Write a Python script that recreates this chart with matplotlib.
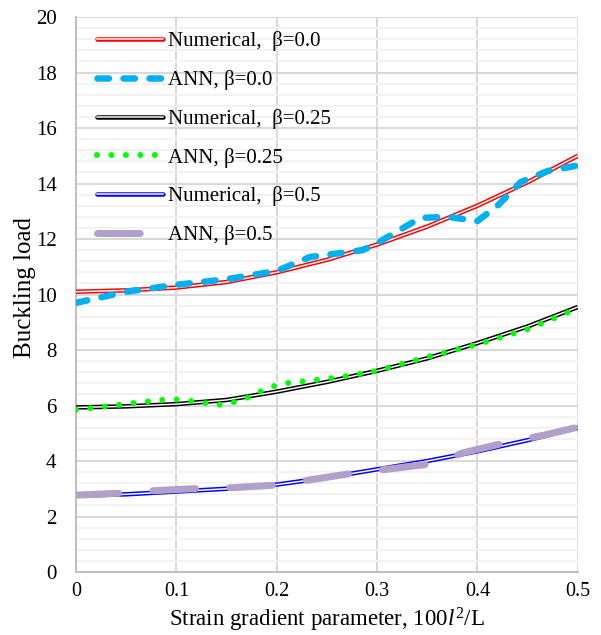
import numpy as np
import matplotlib
matplotlib.use('Agg')
import matplotlib.pyplot as plt
from matplotlib.lines import Line2D

plt.rcParams['font.family'] = 'Liberation Serif'
plt.rcParams['mathtext.fontset'] = 'custom'
plt.rcParams['mathtext.rm'] = 'Liberation Serif'
plt.rcParams['mathtext.it'] = 'Liberation Serif:italic'

# Numerical solutions
x_num = [0.0, 0.05, 0.1, 0.15, 0.2, 0.25, 0.3, 0.35, 0.4, 0.45, 0.5]
num_b00 = [10.1, 10.15, 10.25, 10.45, 10.8, 11.25, 11.8, 12.45, 13.2, 14.05, 15.0]
num_b025 = [5.93, 5.97, 6.05, 6.2, 6.5, 6.85, 7.25, 7.7, 8.25, 8.85, 9.55]
num_b05 = [2.75, 2.8, 2.9, 3.0, 3.15, 3.4, 3.7, 4.0, 4.35, 4.75, 5.2]

# ANN predictions
x_ann_b00 = [0.0, 0.05, 0.1, 0.15, 0.2, 0.233, 0.286, 0.3, 0.343, 0.37, 0.4, 0.42, 0.443, 0.47, 0.5]
ann_b00 = [9.7, 10.1, 10.35, 10.55, 10.85, 11.35, 11.6, 11.85, 12.76, 12.8, 12.65, 13.2, 14.05, 14.45, 14.65]
x_ann_b025 = [0.0, 0.028, 0.056, 0.085, 0.099, 0.113, 0.141, 0.155, 0.169, 0.182, 0.195, 0.208,
              0.237, 0.265, 0.3, 0.35, 0.4, 0.45, 0.5]
ann_b025 = [5.85, 5.96, 6.08, 6.2, 6.22, 6.17, 6.02, 6.1, 6.25, 6.48, 6.68, 6.8,
            6.91, 7.03, 7.25, 7.75, 8.2, 8.75, 9.5]
x_ann_b05 = [0.0, 0.05, 0.077, 0.127, 0.157, 0.203, 0.233, 0.283, 0.309, 0.359, 0.386, 0.435, 0.465, 0.5]
ann_b05 = [2.77, 2.85, 2.93, 3.02, 3.04, 3.14, 3.32, 3.6, 3.7, 3.92, 4.3, 4.72, 4.92, 5.22]

fig = plt.figure(figsize=(6.01, 6.35), dpi=100)
ax = fig.add_axes([0.1265, 0.0992, 0.835, 0.874])

px = 72 / 100  # points per pixel

# line styles (Excel look)
sty_ann0 = dict(color='#00B0F0', lw=6.5 * px, ls=(0, (1.77, 2.23)), dash_capstyle='round')
sty_ann25 = dict(color='#00FF00', lw=6 * px, ls=(0, (0.01, 2.4)), dash_capstyle='round')
sty_ann5 = dict(color='#B1A0C7', lw=7 * px, ls=(0, (6.1, 4.9)), dash_capstyle='round')


def double_line(xs, ys, color):
    # "double" compound line: coloured outline with a white core
    ax.plot(xs, ys, color=color, lw=4.5 * px, solid_capstyle='butt', zorder=3)
    ax.plot(xs, ys, color='white', lw=1.5 * px, solid_capstyle='butt', zorder=3.1)


double_line(x_num, num_b00, '#FF0000')
ax.plot(x_ann_b00, ann_b00, zorder=4, **sty_ann0)
double_line(x_num, num_b025, '#000000')
ax.plot(x_ann_b025, ann_b025, zorder=4, **sty_ann25)
double_line(x_num, num_b05, '#0000FF')
ax.plot(x_ann_b05, ann_b05, zorder=4, **sty_ann5)

ax.set_xlim(0, 0.5)
ax.set_ylim(0, 20)
ax.set_xticks(np.arange(0, 0.51, 0.1))
ax.set_xticklabels(['0', '0.1', '0.2', '0.3', '0.4', '0.5'])
ax.set_yticks(np.arange(0, 21, 2))
ax.set_yticks(np.arange(0, 20.01, 0.4), minor=True)
ax.tick_params(axis='both', which='both', length=0, labelsize=15, colors='black')
ax.tick_params(axis='x', pad=7, labelsize=14.5)
ax.tick_params(axis='y', pad=14)

ax.grid(True, which='major', color='#D9D9D9', lw=2 * px, zorder=1)
ax.yaxis.grid(True, which='minor', color='#F2F2F2', lw=2 * px, zorder=0.9)
ax.set_axisbelow(True)
for s in ['top', 'right']:
    ax.spines[s].set_visible(False)
for s in ['left', 'bottom']:
    ax.spines[s].set_color('#BFBFBF')
    ax.spines[s].set_linewidth(2 * px)

ax.set_xlabel(r'Strain gradient parameter, 100$\mathit{l}^{\mathrm{2}}$/L', fontsize=16.5, va='top')
ax.xaxis.set_label_coords(0.5, -0.06)
ax.set_ylabel('Buckling load', fontsize=18)
ax.yaxis.set_label_coords(-0.08, 0.513)


def dbl_handle(color):
    return (Line2D([], [], color=color, lw=4.5 * px, solid_capstyle='round'),
            Line2D([], [], color='white', lw=1.5 * px))


handles = [
    dbl_handle('#FF0000'),
    Line2D([], [], **sty_ann0),
    dbl_handle('#000000'),
    Line2D([], [], **sty_ann25),
    dbl_handle('#0000FF'),
    Line2D([], [], **sty_ann5),
]
labels = ['Numerical,  β=0.0', 'ANN, β=0.0', 'Numerical,  β=0.25',
          'ANN, β=0.25', 'Numerical,  β=0.5', 'ANN, β=0.5']
ax.legend(handles, labels, loc='upper left', bbox_to_anchor=(0.042, 0.974), frameon=False,
          fontsize=15, handlelength=3.15, handletextpad=0.25, labelspacing=0.9,
          borderaxespad=0, borderpad=0)

fig.savefig('out.png', dpi=100)
